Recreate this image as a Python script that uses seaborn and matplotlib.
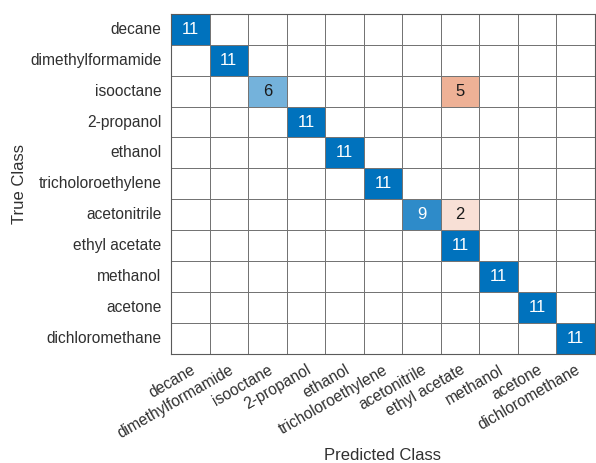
import numpy as np
import pandas as pd
import matplotlib
matplotlib.use("Agg")
import matplotlib.pyplot as plt
import seaborn as sns
from matplotlib.colors import LinearSegmentedColormap

classes = ["decane", "dimethylformamide", "isooctane", "2-propanol", "ethanol",
           "tricholoroethylene", "acetonitrile", "ethyl acetate", "methanol",
           "acetone", "dichloromethane"]

# Confusion counts: rows = true class, columns = predicted class
counts = np.array([
    [11, 0, 0, 0, 0, 0, 0, 0, 0, 0, 0],
    [0, 11, 0, 0, 0, 0, 0, 0, 0, 0, 0],
    [0, 0, 6, 0, 0, 0, 0, 5, 0, 0, 0],
    [0, 0, 0, 11, 0, 0, 0, 0, 0, 0, 0],
    [0, 0, 0, 0, 11, 0, 0, 0, 0, 0, 0],
    [0, 0, 0, 0, 0, 11, 0, 0, 0, 0, 0],
    [0, 0, 0, 0, 0, 0, 9, 2, 0, 0, 0],
    [0, 0, 0, 0, 0, 0, 0, 11, 0, 0, 0],
    [0, 0, 0, 0, 0, 0, 0, 0, 11, 0, 0],
    [0, 0, 0, 0, 0, 0, 0, 0, 0, 11, 0],
    [0, 0, 0, 0, 0, 0, 0, 0, 0, 0, 11],
])

sns.set_theme(style="white")
plt.rcParams["font.family"] = ["Liberation Sans", "DejaVu Sans"]

df = pd.DataFrame(counts, index=classes, columns=classes)
labels = np.where(counts > 0, counts.astype(str), "")
vmax = counts.max()

blue = LinearSegmentedColormap.from_list("diag", ["#ffffff", "#0072bd"])
orange = LinearSegmentedColormap.from_list("offdiag", ["#ffffff", "#d95319"])

diag_mask = ~np.eye(len(classes), dtype=bool)
off_mask = ~diag_mask

fig = plt.figure(figsize=(5.96, 4.63), dpi=100)
ax = fig.add_axes([0.287, 0.236, 0.711, 0.734])

common = dict(vmin=0, vmax=vmax, cbar=False, annot=labels, fmt="",
              linewidths=0.5, linecolor="#747474", square=False,
              annot_kws={"fontsize": 12})
sns.heatmap(df, mask=diag_mask, cmap=blue, ax=ax, **common)
sns.heatmap(df, mask=off_mask, cmap=orange, ax=ax, **common)

# white numbers on strongly coloured cells, dark otherwise
for t in ax.texts:
    txt = t.get_text()
    if txt:
        t.set_color("white" if int(txt) >= 8 else "#1a1a1a")

ax.set_xlabel("Predicted Class", fontsize=12, color="#303030", labelpad=5)
ax.set_ylabel("True Class", fontsize=12, color="#303030", labelpad=2)
ax.set_xticklabels(classes, rotation=30, ha="right", rotation_mode="anchor",
                   fontsize=11.2, color="#303030")
ax.set_yticklabels(classes, rotation=0, fontsize=11.2, color="#303030")
ax.tick_params(axis="x", length=0, pad=6)
ax.tick_params(axis="y", length=0, pad=7)

for s in ax.spines.values():
    s.set_visible(True)
    s.set_color("#5a5a5a")
    s.set_linewidth(0.8)

fig.savefig("out.png", dpi=100)
